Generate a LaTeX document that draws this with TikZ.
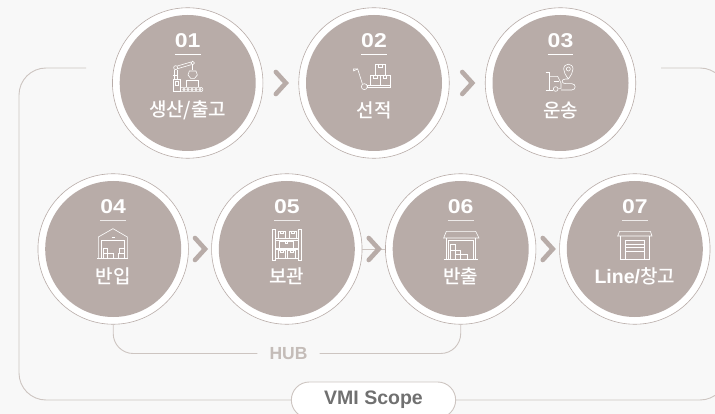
\documentclass[tikz,border=0pt]{standalone}
\usepackage{fontspec}
\setmainfont{Liberation Sans}
\newfontfamily\krfont{Noto Sans CJK KR Medium}
\newfontfamily\numfont[FakeStretch=1.15]{Liberation Sans}
\usetikzlibrary{calc,shapes.misc}
\definecolor{pagegray}{HTML}{F8F8F8}
\definecolor{stepbrown}{HTML}{B8ACA8}
\definecolor{frameline}{HTML}{CDC5C1}
\definecolor{hubgray}{HTML}{C4BCB8}
\definecolor{vmigray}{HTML}{707070}
\tikzset{
	stepring/.style={circle, draw=stepbrown, line width=0.6pt, fill=white, minimum size=150.5pt, inner sep=0pt},
	stepdisc/.style={circle, fill=stepbrown, minimum size=136pt, inner sep=0pt},
	stepnum/.style={text=white, font=\fontsize{20}{21}\selectfont\numfont\bfseries, inner sep=0pt},
	steplabel/.style={text=white, font=\fontsize{19}{20}\selectfont\krfont, inner sep=0pt},
	stepunder/.style={draw=white, line width=0.8pt},
	chevron/.style={draw=stepbrown, line width=4.6pt, line cap=round, miter limit=10},
	frameedge/.style={draw=frameline, line width=0.9pt},
	iconline/.style={draw=white, line width=0.6pt},
}
\def\stepnode(#1)(#2)#3#4{
	\node[stepring] (#1) at (#2) {};
	\node[stepdisc] at (#1) {};
	\node[stepnum] (#1num) at ($(#1)+(0,-42.3)$) {#3};
	\draw[stepunder] ($(#1num.west)+(0,13.8)$) -- ($(#1num.east)+(0,13.8)$);
	\node[steplabel] (#1text) at ($(#1)+(0,27.5)$) {#4};
}
\def\stepchevron(#1)(#2){
	\draw[chevron] ($($(#1.east)!0.5!(#2.west)$)+(-5,-11)$) -- ++(10,11) -- ++(-10,11);
}

\begin{document}
\begin{tikzpicture}[x=1pt,y=-1pt]
		%%%%% START %%%%%
		
		\useasboundingbox (0,0) rectangle (715,414);
		\clip (0,0) rectangle (715,414);
		\fill[pagegray] (0,0) rectangle (715,414);
		
		\stepnode(step01)(187.7,83){01}{생산/출고}
		\stepnode(step02)(374,83){02}{선적}
		\stepnode(step03)(560.5,83){03}{운송}
		\tikzset{stepunder/.append style={draw=white!75!stepbrown}}
		\stepnode(step04)(113.2,249){04}{반입}
		\stepnode(step05)(286.8,249){05}{보관}
		\stepnode(step06)(460.7,249){06}{반출}
		\stepnode(step07)(634.8,249){07}{{\fontspec{Liberation Sans}\fontsize{19.5}{20}\selectfont\bfseries Line/}창고}
		
		\draw[frameline, line width=0.6pt] (step05.east) -- (step06.west);
		\stepchevron(step01)(step02)
		\stepchevron(step02)(step03)
		\stepchevron(step04)(step05)
		\stepchevron(step05)(step06)
		\stepchevron(step06)(step07)
		
		% outer scope line
		\node[rounded rectangle, draw=frameline, line width=0.9pt, fill=white, minimum width=171pt, minimum height=36pt, text=vmigray, font=\fontsize{19.5}{20}\selectfont\bfseries] (vmi) at (373.5,400) {VMI Scope};
		\coordinate (frameleft) at (86,68);
		\coordinate (frameright) at (661,68);
		\draw[frameedge, rounded corners=27pt] (frameleft) -- (19,68) -- (19,400) -- (vmi.west);
		\draw[frameedge, rounded corners=27pt] (frameright) -- (727,68) -- (727,400) -- (vmi.east);
		
		% hub line
		\node[text=hubgray, font=\fontsize{17.5}{18}\selectfont\bfseries, inner xsep=12pt, inner ysep=0pt] (hub) at (288.5,353.5) {HUB};
		\draw[frameedge, rounded corners=20pt] (step04.south) |- (hub.west);
		\draw[frameedge, rounded corners=20pt] (step06.south) |- (hub.east);
		
		% icon 01
		\begin{scope}[shift={(160,55)},scale=1/3,iconline]
			\draw (40,72) rectangle (62,110);
			\draw (45,80) rectangle (55,92);
			\draw (62,97) -- (122,97) .. controls (131,97) and (131,110) .. (122,110) -- (62,110);
			\foreach \i in {72,84,96,108,120}{\draw (\i,103.5) circle (3.5);}
			\draw (47,38) circle (6);
			\draw (98,24) circle (5.5);
			\draw (52,33) -- (93,21);
			\draw (53,41) -- (94,29);
			\draw (43,44) -- (43,72);
			\draw (52,44) -- (52,72);
			\draw (40,60) -- (55,60);
			\draw (98,30) -- (98,44);
			\draw (88,48) -- (108,48) -- (112,60) -- (104,70) -- (92,70) -- (84,60) -- cycle;
			\draw (78,97) -- (78,76) -- (116,76) -- (116,97);
		\end{scope}
		
		% icon 02
		\begin{scope}[shift={(345,55)},scale=1/3,iconline]
			\draw (25,48) -- (25,42) -- (38,42) -- (52,86);
			\draw (38,42) -- (25,48);
			\draw (58,95) circle (9);
			\draw (67,92) rectangle (135,98);
			\draw (77,60) rectangle (106,90);
			\draw (106,60) rectangle (135,90);
			\draw (91,28) rectangle (121,60);
			\draw (86,60) -- (86,70) -- (96,70) -- (96,60);
			\draw (115,60) -- (115,70) -- (125,70) -- (125,60);
			\draw (100,28) -- (100,38) -- (111,38) -- (111,28);
		\end{scope}
		
		% icon 03
		\begin{scope}[shift={(535,55)},scale=1/3,iconline]
			\draw (100,72) .. controls (92,60) and (86,52) .. (86,42) .. controls (86,23) and (114,23) .. (114,42) .. controls (114,52) and (108,60) .. (100,72);
			\draw (100,42) circle (6);
			\draw (100,72) -- (92,72) .. controls (78,72) and (78,86) .. (92,86) -- (110,86) .. controls (124,86) and (124,105) .. (110,105) -- (78,105);
			\draw (32,52) -- (43,52) -- (43,105);
			\draw (32,106) -- (54,106);
			\draw (43,64) -- (68,64) -- (78,84) -- (78,100) -- (70,100);
			\draw (56,78) -- (72,78);
			\draw (62,102) circle (7);
		\end{scope}
		
		% icon 04
		\begin{scope}[shift={(85,222)},scale=1/3,iconline]
			\draw (40,108) -- (40,45) -- (84,20) -- (127,45) -- (127,108);
			\draw (36,108) -- (130,108);
			\draw (50,108) -- (50,54) -- (117,54) -- (117,108);
			\draw (80,45) -- (90,45);
			\draw (55,78) rectangle (68,94);
			\draw (55,94) rectangle (68,108);
			\draw (68,94) rectangle (84,108);
			\draw (102,80) rectangle (117,94);
			\draw (100,94) rectangle (117,108);
		\end{scope}
		
		% icon 05
		\begin{scope}[shift={(259,222)},scale=1/3,iconline]
			\draw (40,22) rectangle (50,115);
			\draw (118,22) rectangle (128,115);
			\draw (50,50) rectangle (118,55);
			\draw (50,78) rectangle (118,83);
			\draw (50,108) -- (118,108);
			\draw (57,50) -- (57,28) -- (80,28) -- (80,50);
			\draw (92,50) -- (92,28) -- (112,28) -- (112,50);
			\draw (60,78) -- (60,57) -- (104,57) -- (104,78);
			\draw (57,108) -- (57,85) -- (80,85) -- (80,108);
			\draw (85,108) -- (85,85) -- (110,85) -- (110,108);
			\draw (64,28) -- (64,35) -- (72,35) -- (72,28);
			\draw (98,28) -- (98,35) -- (106,35) -- (106,28);
			\draw (78,57) -- (78,63) -- (86,63) -- (86,57);
			\draw (64,85) -- (64,92) -- (72,92) -- (72,85);
			\draw (94,85) -- (94,92) -- (102,92) -- (102,85);
		\end{scope}
		
		% icon 06
		\begin{scope}[shift={(433,222)},scale=1/3,iconline]
			\draw (32,48) -- (40,28) -- (128,28) -- (138,48) -- cycle;
			\draw (40,48) -- (40,112);
			\draw (128,48) -- (128,112);
			\draw (32,112) -- (136,112);
			\draw (46,112) -- (46,56) -- (120,56) -- (120,112);
			\draw (52,68) rectangle (66,84);
			\draw (52,84) rectangle (66,112);
			\draw (66,84) rectangle (82,98);
			\draw (66,98) rectangle (82,112);
			\draw (82,98) rectangle (104,112);
		\end{scope}
		
		% icon 07
		\begin{scope}[shift={(607,222)},scale=1/3,iconline]
			\draw (32,42) -- (38,28) -- (130,28) -- (135,42) -- cycle;
			\draw (40,42) -- (40,112) -- (128,112) -- (128,42);
			\draw (55,112) -- (55,56) -- (113,56) -- (113,112);
			\draw (55,68) -- (113,68);
			\draw (55,77) -- (113,77);
			\draw (55,88) -- (113,88);
		\end{scope}
		
		%%%%% END %%%%%
	\end{tikzpicture}
\end{document}
